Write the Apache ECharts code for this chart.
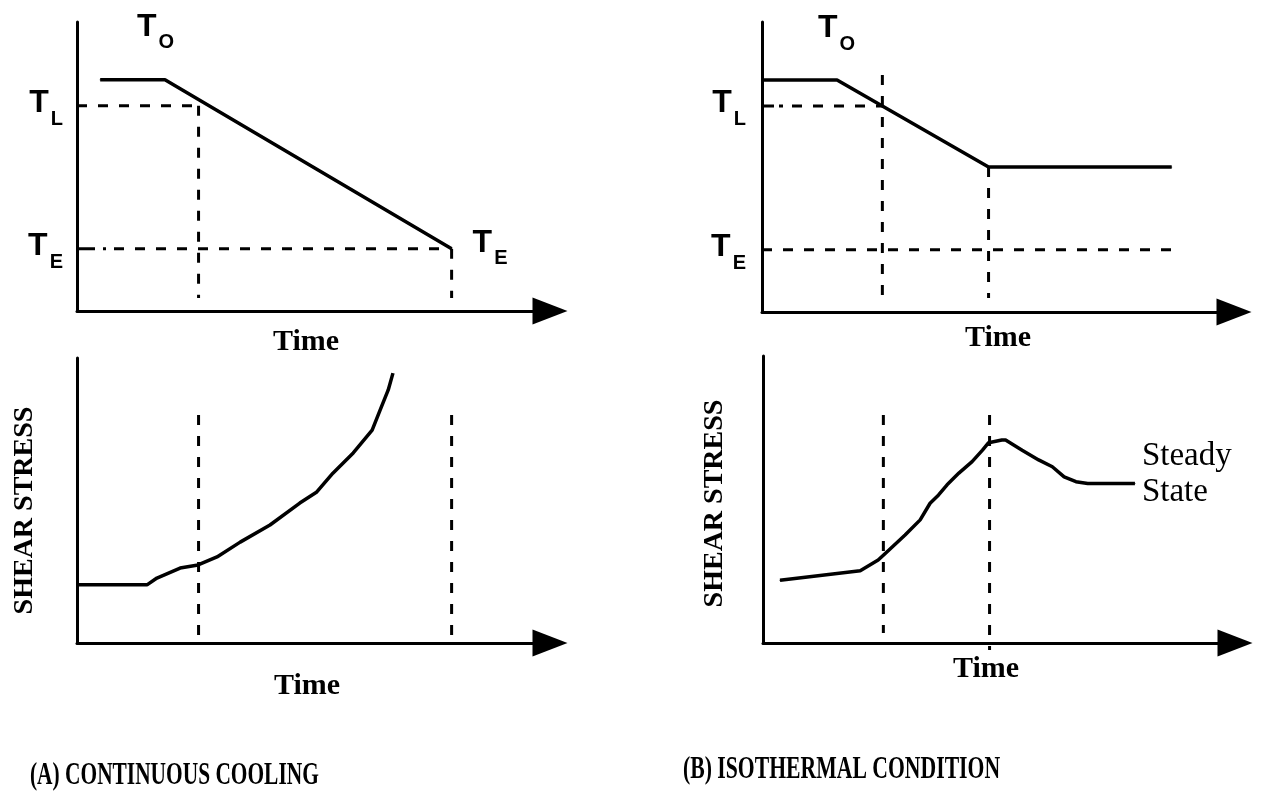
<!DOCTYPE html>
<html>
<head>
<meta charset="utf-8">
<script src="https://cdn.jsdelivr.net/npm/echarts@6/dist/echarts.min.js"></script>
<style>
  html, body { margin: 0; padding: 0; background: #fff; }
  #chart { width: 1262px; height: 804px; }
</style>
</head>
<body>
<div id="chart"></div>
<script>
// ---------------- data ----------------
const panelTitles = ['(A) CONTINUOUS COOLING', '(B) ISOTHERMAL CONDITION'];
const timeTitle = 'Time';
const stressTitle = 'SHEAR STRESS';

// temperature levels: liquidus T_L and end temperature T_E (arbitrary units)
const levelSubs = ['L', 'E'];
const tempLevels = [71, 21.5];
const startSub = 'O';

// (A) continuous cooling: temperature vs time
const coolTime = [4.9, 18.6, 79.2];
const coolTemp = [80, 80, 21.5];

// (B) isothermal condition: temperature vs time
const isoTime = [0, 15.9, 48, 86.8];
const isoTemp = [80, 80, 50, 50];

// times marked with vertical guides
const markTimesA = [25.7, 79.2];
const markTimesB = [25.5, 48];

// shear stress vs time
const shearTimeA = [0, 14.8, 16.9, 21.8, 25.6, 29.6, 34.5, 40.8, 47.1, 50.7, 54.1, 58.4, 62.4, 64.1, 65.8, 66.8];
const shearA     = [20.4, 20.4, 22.8, 26.3, 27.4, 30.2, 35.4, 41.4, 49.1, 53.0, 59.6, 66.7, 74.7, 81.8, 88.8, 94.7];
const shearTimeB = [3.6, 20.6, 24.4, 25.9, 30.1, 33.3, 35.4, 37.2, 39.0, 41.5, 44.3, 46.5, 47.8, 50.6, 51.4, 54.9, 58.4, 61.3, 63.8, 66.3, 68.8, 78.8];
const shearB     = [21.9, 25.2, 28.9, 31.2, 37.6, 42.9, 48.7, 51.6, 55.1, 59.2, 63.2, 67.2, 69.8, 70.7, 70.7, 67.2, 63.8, 61.4, 57.9, 56.2, 55.6, 55.6];
const steadyText = 'Steady\nState';

// ---------------- styles ----------------
const INK = '#000';
const SERIF = '"Liberation Serif", "DejaVu Serif", serif';
const SANS = '"Liberation Sans", Arial, sans-serif';

// "T" with a lowered subscript
const subRich = {
  t: { fontFamily: SANS, fontWeight: 'bold', fontSize: 32, lineHeight: 32, verticalAlign: 'top', color: INK },
  s: { fontFamily: SANS, fontWeight: 'bold', fontSize: 20, lineHeight: 42, verticalAlign: 'bottom', color: INK, padding: [0, 0, 0, 2] }
};
const subText = s => '{t|T}{s|' + s + '}';

function dashes(lead) {
  const out = lead.slice();
  for (let i = 0; i < 40; i++) out.push(10, 11);
  return out;
}
const DASH = [10, 11];

const zip = (xs, ys) => xs.map((x, i) => [x, ys[i]]);

function line(idx, data, style, extra) {
  return Object.assign({
    type: 'line', xAxisIndex: idx, yAxisIndex: idx, data: data,
    symbol: 'none', silent: true, animation: false, clip: false,
    lineStyle: Object.assign({ color: INK, width: 3, cap: 'butt' }, style || {})
  }, extra || {});
}
const labelled = { symbol: 'circle', symbolSize: 1, showSymbol: true, itemStyle: { color: INK } };

const grids = [
  { left: 77,  top: 22,  width: 473, height: 289 },
  { left: 77,  top: 358, width: 473, height: 285 },
  { left: 762, top: 22,  width: 472, height: 290 },
  { left: 763, top: 356, width: 472, height: 287 }
];

const timeNameGap = [16, 28, 11, 11];
const timeNamePad = [[0, 15, 0, 0], [0, 13, 0, 0], [0, 0, 0, 0], [0, 26, 0, 0]];

const xAxes = grids.map((g, i) => ({
  type: 'value', gridIndex: i, min: 0, max: 100,
  axisLine: { show: true, symbol: ['none', 'triangle'], symbolSize: [27, 35], lineStyle: { color: INK, width: 3 } },
  axisTick: { show: false }, axisLabel: { show: false }, splitLine: { show: false },
  name: timeTitle, nameLocation: 'middle', nameGap: timeNameGap[i],
  nameTextStyle: { fontFamily: SERIF, fontWeight: 'bold', fontSize: 30, color: INK, padding: timeNamePad[i] }
}));

const yAxes = grids.map((g, i) => {
  const ax = {
    type: 'value', gridIndex: i, min: 0, max: 100,
    axisLine: { show: true, lineStyle: { color: INK, width: 3 } },
    axisTick: { show: false }, splitLine: { show: false },
    axisLabel: { show: false }
  };
  if (i === 0 || i === 2) {
    ax.axisLabel = {
      show: true, customValues: tempLevels, margin: i === 0 ? 14 : 16,
      padding: [5, 0, 0, 0], rich: subRich,
      formatter: v => subText(levelSubs[tempLevels.indexOf(v)])
    };
  } else {
    ax.name = stressTitle;
    ax.nameLocation = 'middle';
    ax.nameRotate = 90;
    ax.nameGap = i === 1 ? 38 : 34;
    ax.nameTextStyle = { fontFamily: SERIF, fontWeight: 'bold', fontSize: 28, color: INK,
                         padding: i === 1 ? [0, 20, 0, 0] : [0, 8, 0, 0] };
  }
  return ax;
});

// temperature history with T_O and T_E annotations
const subLabel = (s, offset) => ({ show: true, position: 'inside', align: 'left', offset: offset, rich: subRich, formatter: subText(s) });
const coolData = zip(coolTime, coolTemp).map((p, i) => {
  if (i === 1) return { value: p, label: subLabel(startSub, [-28, -48]) };
  if (i === 2) return { value: p, label: subLabel(levelSubs[1], [21, -1]) };
  return p;
});
const isoData = zip(isoTime, isoTemp).map((p, i) => {
  if (i === 1) return { value: p, label: subLabel(startSub, [-19, -47]) };
  return p;
});
const shearDataB = zip(shearTimeB, shearB).map((p, i, arr) => {
  if (i === arr.length - 1) return { value: p, label: { show: true, position: 'inside', align: 'left', offset: [7, -9],
    formatter: steadyText, fontFamily: SERIF, fontSize: 33, lineHeight: 36, color: INK } };
  return p;
});

const TL = tempLevels[0], TE = tempLevels[1];

const series = [
  // (A) temperature
  line(0, coolData, { width: 3.5 }, labelled),
  line(0, [[0, TL], [markTimesA[0], TL]], { type: DASH }),
  line(0, [[0, TE], [markTimesA[1], TE]], { type: dashes([18, 8, 3, 8]) }),
  line(0, [[markTimesA[0], TL], [markTimesA[0], 4.5]], { type: DASH }),
  line(0, [[markTimesA[1], TE], [markTimesA[1], 4.5]], { type: DASH }),
  // (A) shear stress
  line(1, zip(shearTimeA, shearA), { width: 3.5 }),
  line(1, [[markTimesA[0], 80], [markTimesA[0], 2.8]], { type: DASH }),
  line(1, [[markTimesA[1], 80], [markTimesA[1], 2.8]], { type: DASH }),
  // (B) temperature
  line(2, isoData, { width: 3.5 }, labelled),
  line(2, [[0, TL], [markTimesB[0], TL]], { type: dashes([12, 5, 4, 9]) }),
  line(2, [[0, TE], [88.9, TE]], { type: DASH }),
  line(2, [[markTimesB[0], 81.7], [markTimesB[0], 4.8]], { type: DASH }),
  line(2, [[markTimesB[1], isoTemp[2]], [markTimesB[1], 4.8]], { type: DASH }),
  // (B) shear stress
  line(3, shearDataB, { width: 3.5 }, labelled),
  line(3, [[markTimesB[0], 79.4], [markTimesB[0], 3.5]], { type: DASH }),
  line(3, [[markTimesB[1], 79.4], [markTimesB[1], -2.4]], { type: DASH })
];

// panel captions in a narrow heavy serif
const captionStyle = { fill: INK, font: 'bold 31px ' + SERIF, textVerticalAlign: 'middle', textAlign: 'left' };
const captions = [
  { type: 'text', x: 30, y: 776, scaleX: 0.69, silent: true, style: Object.assign({ text: panelTitles[0] }, captionStyle) },
  { type: 'text', x: 683, y: 770, scaleX: 0.7, silent: true, style: Object.assign({ text: panelTitles[1] }, captionStyle) }
];

const chart = echarts.init(document.getElementById('chart'), null, { renderer: 'canvas' });
chart.setOption({
  backgroundColor: '#fff',
  animation: false,
  graphic: captions,
  grid: grids,
  xAxis: xAxes,
  yAxis: yAxes,
  series: series
});
</script>
</body>
</html>
